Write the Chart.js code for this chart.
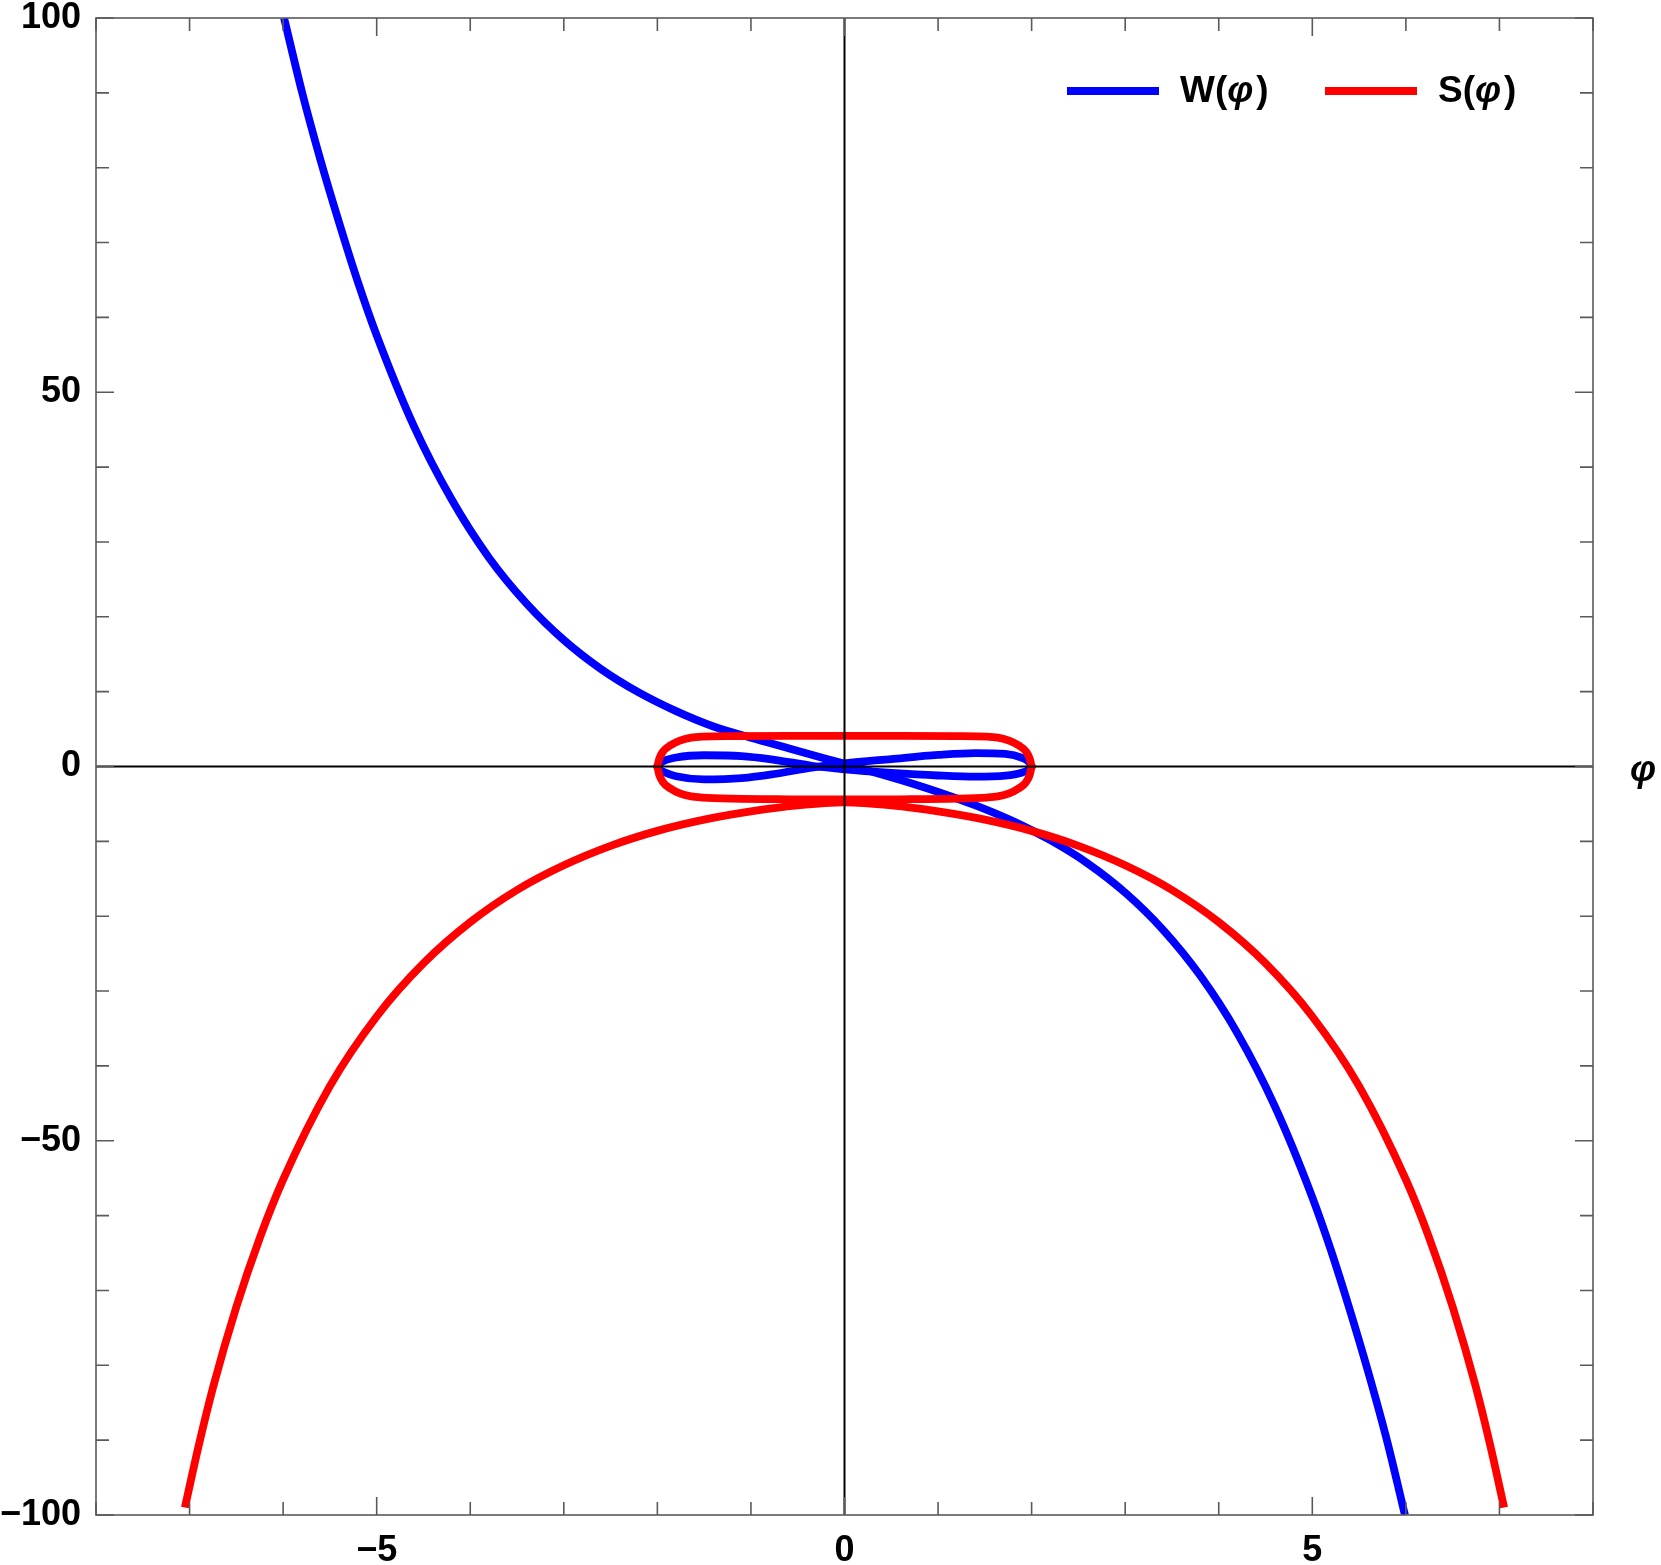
<!DOCTYPE html>
<html>
<head>
<meta charset="utf-8">
<script src="https://cdn.jsdelivr.net/npm/chart.js@4.4.1/dist/chart.umd.min.js"></script>
<style>
  html, body { margin: 0; padding: 0; background: #fff; }
  canvas { display: block; }
</style>
</head>
<body>
<canvas id="chart" width="1661" height="1565"></canvas>
<script>
// W(phi), main branch
const wPhi = [-5.99, -5.8, -5.6, -5.4, -5.2, -5.0, -4.6, -4.2, -3.8, -3.4, -3.0, -2.6, -2.2, -1.8, -1.4, -1.0,
  -0.6, -0.2, 0.2, 0.6, 1.0, 1.4, 1.8, 2.2, 2.6, 3.0, 3.4, 3.8, 4.2, 4.6, 5.0, 5.2, 5.4, 5.6, 5.8, 5.99];
const wVal = [100, 90.2, 81.0, 72.6, 64.7, 57.6, 45.4, 35.7, 27.9, 21.8, 16.9, 13.0, 9.9, 7.4, 5.35, 3.85,
  2.45, 1.05, -0.35, -1.8, -3.4, -5.2, -7.3, -9.85, -12.95, -16.85, -21.75, -27.9, -35.65, -45.4, -57.55,
  -64.65, -72.55, -81.0, -90.15, -100];

// W(phi), inner figure-eight: two arcs between phi = -2 and phi = 2
const wLoopPhi = [-2.0, -1.98, -1.93, -1.8, -1.5, -1.1, -0.75, -0.35, 0, 0.5, 1.0, 1.4, 1.72, 1.9, 1.97, 2.0];
const wLoopA = [0, 0.35, 0.75, 1.2, 1.5, 1.4, 0.9, 0.1, -0.38, -0.85, -1.2, -1.36, -1.22, -0.8, -0.4, 0];
const wLoopB = [0, -0.35, -0.75, -1.3, -1.72, -1.55, -1.0, -0.15, 0.42, 1.0, 1.55, 1.8, 1.7, 1.15, 0.6, 0];

// S(phi), outer branch
const sPhi = [-7.05, -6.9, -6.75, -6.5, -6.25, -6.0, -5.5, -5.0, -4.5, -4.0, -3.5, -3.0, -2.5, -2.0, -1.5, -1.0,
  -0.5, 0, 0.5, 1.0, 1.5, 2.0, 2.5, 3.0, 3.5, 4.0, 4.5, 5.0, 5.5, 6.0, 6.25, 6.5, 6.75, 6.9, 7.05];
const sVal = [-99.0, -90.6, -83.0, -72.2, -63.0, -55.2, -42.7, -33.4, -26.3, -20.8, -16.5, -13.2, -10.6, -8.6,
  -7.1, -6.0, -5.2, -4.8, -5.2, -6.0, -7.1, -8.6, -10.6, -13.2, -16.5, -20.8, -26.3, -33.4, -42.7, -55.2,
  -63.0, -72.2, -83.0, -90.6, -99.0];

// S(phi), closed loop: upper and lower arcs between phi = -2 and phi = 2
const sLoopPhi = [-2.0, -1.98, -1.94, -1.86, -1.76, -1.64, -1.52, -1.2, -0.6, 0, 0.6, 1.2, 1.52, 1.64, 1.76,
  1.86, 1.94, 1.98, 2.0];
const sLoopTop = [0, 1.04, 2.0, 2.83, 3.46, 3.86, 4.0, 4.06, 4.08, 4.08, 4.08, 4.06, 4.0, 3.86, 3.46, 2.83,
  2.0, 1.04, 0];
const sLoopBottom = [0, -1.1, -2.1, -2.95, -3.6, -4.0, -4.15, -4.3, -4.38, -4.4, -4.38, -4.3, -4.15, -4.0,
  -3.6, -2.95, -2.1, -1.1, 0];

const xLabelled = [-5, 0, 5];
const yLabelled = [-100, -50, 0, 50, 100];

function toPoints(xs, ys) {
  return xs.map((x, i) => ({ x: x, y: ys[i] }));
}

function fmt(v) {
  return v < 0 ? '\u2212' + Math.abs(v) : String(v);
}

const BLUE = '#0000ff';
const RED = '#ff0000';
const FONT = '"Liberation Sans", Arial, sans-serif';
const LINE_W = 7.8;

// frame with inward ticks, axes through the origin, axis label and legend
const framePlugin = {
  id: 'frame',
  afterDatasetsDraw(chart) {
    const { ctx, chartArea: a, scales: { x, y } } = chart;
    ctx.save();

    // axes through origin
    const x0 = x.getPixelForValue(0);
    const y0 = y.getPixelForValue(0);
    ctx.strokeStyle = '#000';
    ctx.lineWidth = 2;
    ctx.beginPath();
    ctx.moveTo(a.left, y0); ctx.lineTo(a.right, y0);
    ctx.moveTo(x0, a.top); ctx.lineTo(x0, a.bottom);
    ctx.stroke();

    // frame
    ctx.strokeStyle = '#5a5a5a';
    ctx.lineWidth = 1.6;
    ctx.strokeRect(a.left, a.top, a.right - a.left, a.bottom - a.top);

    // ticks pointing inward on all four sides
    ctx.beginPath();
    x.ticks.forEach(t => {
      const px = x.getPixelForValue(t.value);
      const len = t.value % 5 === 0 ? 18 : 13;
      ctx.moveTo(px, a.bottom); ctx.lineTo(px, a.bottom - len);
      ctx.moveTo(px, a.top); ctx.lineTo(px, a.top + len);
    });
    y.ticks.forEach(t => {
      const py = y.getPixelForValue(t.value);
      const len = t.value % 50 === 0 ? 18 : 13;
      ctx.moveTo(a.left, py); ctx.lineTo(a.left + len, py);
      ctx.moveTo(a.right, py); ctx.lineTo(a.right - len, py);
    });
    ctx.stroke();

    // axis label
    ctx.fillStyle = '#000';
    ctx.font = 'italic bold 37px ' + FONT;
    ctx.textAlign = 'center';
    ctx.textBaseline = 'middle';
    ctx.fillText('\u03c6', a.right + 50, y0 + 4);

    ctx.restore();
  },
  afterDraw(chart) {
    const { ctx, chartArea: a } = chart;
    const entries = [
      { ds: chart.data.datasets.find(d => d.label === 'W'), left: a.right - 526 },
      { ds: chart.data.datasets.find(d => d.label === 'S'), left: a.right - 268 }
    ];
    const ly = a.top + 73;
    ctx.save();
    entries.forEach(e => {
      ctx.strokeStyle = e.ds.borderColor;
      ctx.lineWidth = LINE_W;
      ctx.beginPath();
      ctx.moveTo(e.left, ly);
      ctx.lineTo(e.left + 92, ly);
      ctx.stroke();

      ctx.fillStyle = '#000';
      ctx.textBaseline = 'middle';
      ctx.textAlign = 'left';
      let tx = e.left + 113;
      const parts = [[e.ds.label + '(', 'bold'], ['\u03c6', 'italic bold'], [')', 'bold']];
      parts.forEach(([s, style]) => {
        ctx.font = style + ' 37px ' + FONT;
        ctx.fillText(s, tx, ly + 1);
        tx += ctx.measureText(s).width + (style === 'italic bold' ? 3 : 0);
      });
    });
    ctx.restore();
  }
};

const lineStyle = {
  showLine: true,
  pointRadius: 0,
  pointHoverRadius: 0,
  borderWidth: LINE_W,
  borderCapStyle: 'round',
  cubicInterpolationMode: 'monotone',
  fill: false
};

function noPadding(s) {
  s.paddingTop = 0;
  s.paddingBottom = 0;
  s.paddingLeft = 0;
  s.paddingRight = 0;
}

new Chart(document.getElementById('chart'), {
  type: 'scatter',
  data: {
    datasets: [
      Object.assign({ label: 'S', data: toPoints(sPhi, sVal), borderColor: RED }, lineStyle, { borderCapStyle: 'butt' }),
      Object.assign({ label: '', data: toPoints(sLoopPhi, sLoopTop), borderColor: RED }, lineStyle),
      Object.assign({ label: '', data: toPoints(sLoopPhi, sLoopBottom), borderColor: RED }, lineStyle),
      Object.assign({ label: 'W', data: toPoints(wPhi, wVal), borderColor: BLUE }, lineStyle, { borderCapStyle: 'butt' }),
      Object.assign({ label: '', data: toPoints(wLoopPhi, wLoopA), borderColor: BLUE }, lineStyle),
      Object.assign({ label: '', data: toPoints(wLoopPhi, wLoopB), borderColor: BLUE }, lineStyle)
    ]
  },
  options: {
    responsive: false,
    animation: false,
    layout: { padding: { top: 18, right: 68, left: 0, bottom: 0 } },
    plugins: {
      legend: { display: false },
      tooltip: { enabled: false }
    },
    scales: {
      x: {
        type: 'linear',
        min: -8,
        max: 8,
        grid: { display: false, drawTicks: false },
        border: { display: false },
        ticks: {
          stepSize: 1,
          autoSkip: false,
          maxRotation: 0,
          padding: 14,
          color: '#000',
          font: { family: FONT, size: 36, weight: 'bold' },
          callback: v => xLabelled.includes(v) ? fmt(v) : ''
        },
        afterFit: s => { s.height = 50; noPadding(s); }
      },
      y: {
        type: 'linear',
        min: -100,
        max: 100,
        grid: { display: false, drawTicks: false },
        border: { display: false },
        ticks: {
          stepSize: 10,
          autoSkip: false,
          padding: 15,
          color: '#000',
          font: { family: FONT, size: 36, weight: 'bold' },
          callback: v => yLabelled.includes(v) ? fmt(v) : ''
        },
        afterFit: s => { s.width = 96; noPadding(s); }
      }
    }
  },
  plugins: [framePlugin]
});
</script>
</body>
</html>
